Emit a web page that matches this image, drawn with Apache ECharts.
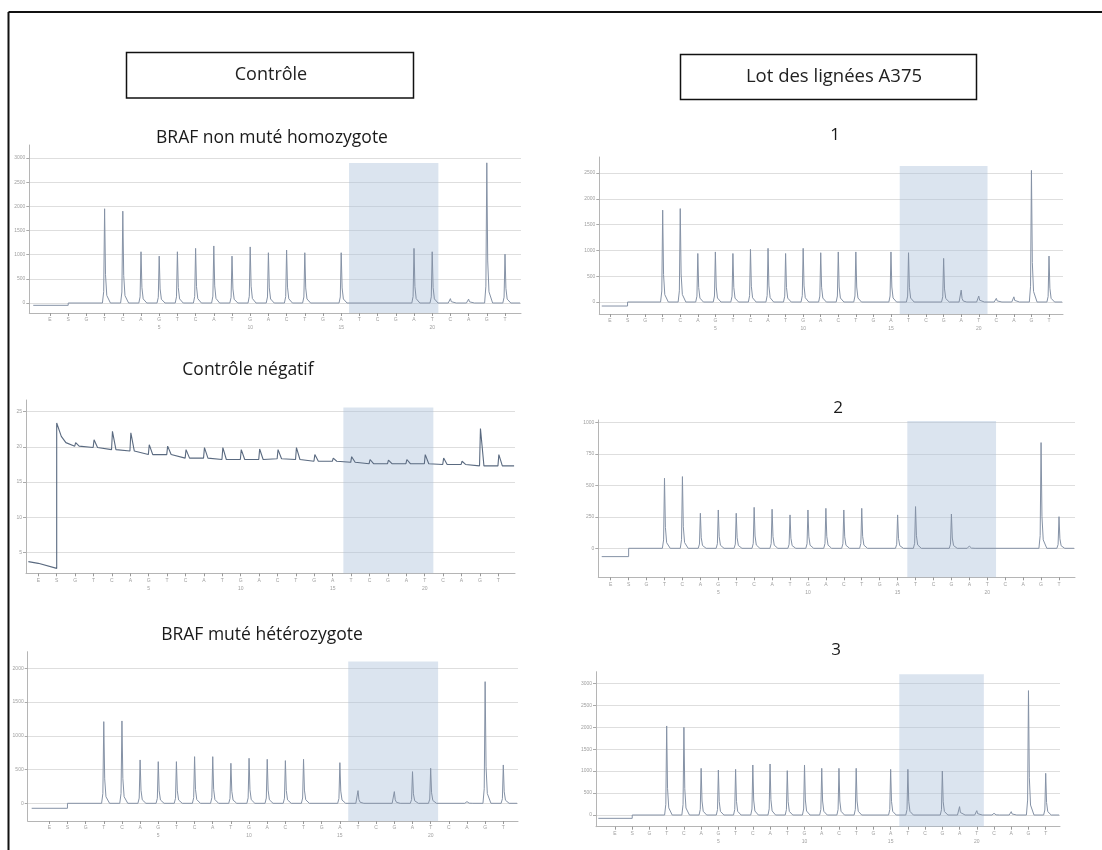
<!DOCTYPE html>
<html>
<head>
<meta charset="utf-8">
<script src="https://cdn.jsdelivr.net/npm/echarts@6.0.0/dist/echarts.min.js"></script>
<style>
html,body{margin:0;padding:0;background:#ffffff;}
#chart{width:1102px;height:850px;}
</style>
</head>
<body>
<div id="chart"></div>
<script>
// ---------------- DATA ----------------
const dispensations = [1,2,3,4,5,6,7,8,9,10,11,12,13,14,15,16,17,18,19,20,21,22,23,24,25,26];
const dispensationLetters = ['E','S','G','T','C','A','G','T','C','A','T','G','A','C','T','G','A','T','C','G','A','T','C','A','G','T'];
const cycleTicks = [7, 12, 17, 22];
const cycleLabels = ['5', '10', '15', '20'];

const headerLeft = 'Contrôle';
const headerRight = 'Lot des lignées A375';
const titleHomozygote = 'BRAF non muté homozygote';
const titleNegative = 'Contrôle négatif';
const titleHeterozygote = 'BRAF muté hétérozygote';
const titleSample1 = '1';
const titleSample2 = '2';
const titleSample3 = '3';

// peak heights per dispensation (1..26)
const peaksHomozygote   = [0,0,0,1950,1900,1060,970,1060,1130,1180,970,1160,1040,1095,1040,0,1040,0,0,0,1130,1060,90,80,2900,1010];
const peaksSample1      = [0,0,0,1780,1810,940,970,940,1020,1040,940,1040,955,970,970,0,970,955,0,845,230,115,70,100,2550,890];
const peaksSample2      = [0,0,0,556,569,278,304,278,325,310,265,304,317,304,317,0,265,331,0,272,18,0,0,0,839,251];
const peaksHeterozygote = [0,0,0,1210,1220,642,617,617,691,691,593,667,652,632,652,0,602,188,0,173,469,519,0,25,1802,568];
const peaksSample3      = [0,0,0,2028,1997,1063,1025,1040,1139,1162,1010,1139,1063,1063,1063,0,1040,1040,0,1002,190,99,38,76,2833,949];

// signal before substrate dispensation: [start dispensation, level]
const preHomozygote   = [0.08, -48];
const preSample1      = [0.53, -78];
const preSample2      = [0.50, -66];
const preHeterozygote = [0.03, -74];
const preSample3      = [0.03, -76];

// y tick labels
const yTicksHomozygote   = [0,500,1000,1500,2000,2500,3000];
const yTicksSample1      = [0,500,1000,1500,2000,2500];
const yTicksNegative     = [5,10,15,20,25];
const yTicksSample2      = [0,250,500,750,1000];
const yTicksHeterozygote = [0,500,1000,1500,2000];
const yTicksSample3      = [0,500,1000,1500,2000,2500,3000];

// analysed region: [from dispensation, to dispensation, top value]
const shadeHomozygote   = [17.43, 22.34, 2896];
const shadeSample1      = [17.50, 22.50, 2635];
const shadeNegative     = [17.58, 22.47, 25.6];
const shadeSample2      = [17.54, 22.49, 1010];
const shadeHeterozygote = [17.46, 22.41, 2099];
const shadeSample3      = [17.50, 22.41, 3205];

// negative control trace
const negativePre   = [[0.46,3.67],[1,3.43],[2,2.71]];
const negativeDecay = [[2,23.4],[2.25,21.5],[2.5,20.6]];
const negativeBase  = [20.1,19.9,19.6,19.4,18.9,18.9,18.4,18.4,18.2,18.2,18.2,18.3,18.2,17.95,17.95,17.8,17.6,17.6,17.6,17.6,17.5,17.5,17.3,17.3]; // dispensations 3..26
const negativeSpike = [20.6,21.0,22.2,22.0,20.3,20.1,19.6,19.9,19.9,19.6,19.7,19.6,19.9,18.9,18.4,18.6,18.2,18.1,18.2,18.9,18.4,17.95,22.6,18.9];

// ---------------- STYLE / LAYOUT ----------------
const PEAK_SHAPE = [[-0.12,0],[-0.05,0.12],[0,1],[0.05,0.3],[0.12,0.08],[0.32,0]];
const LINE_COLOR = '#8592a6';
const GRID_COLOR = '#dedede';
const AXIS_COLOR = '#b5b5b5';
const LABEL_COLOR = '#a0a0a0';
const SHADE_COLOR = 'rgba(170,190,218,0.42)';

const layouts = {
  homo:   {tick1:50,   tick26:505,    left:29.3,  right:521,  v0:0, p0:303,   v1:3000, p1:158,   bottom:313,   top:145},
  s1:     {tick1:610,  tick26:1049,   left:599.3, right:1063, v0:0, p0:302,   v1:2500, p1:173,   bottom:314,   top:157},
  neg:    {tick1:38.3, tick26:498.3,  left:26,    right:515,  v0:5, p0:552.3, v1:25,   p1:411.7, bottom:573.3, top:400},
  s2:     {tick1:610.7,tick26:1059,   left:598.3, right:1075, v0:0, p0:548.3, v1:1000, p1:422.3, bottom:577.3, top:420},
  het:    {tick1:49.3, tick26:503.3,  left:27.7,  right:518,  v0:0, p0:803.3, v1:2000, p1:668.3, bottom:821,   top:651.7},
  s3:     {tick1:615,  tick26:1045.7, left:596,   right:1060, v0:0, p0:815,   v1:3000, p1:683.3, bottom:826.7, top:671.7}
};

function geometry(L) {
  const sp = (L.tick26 - L.tick1) / 25;
  const ppu = (L.p0 - L.p1) / (L.v1 - L.v0);
  return {
    grid: {left: L.left, top: L.top, width: L.right - L.left, height: L.bottom - L.top, outerBoundsMode: 'none', containLabel: false},
    xmin: 1 - (L.tick1 - L.left) / sp,
    xmax: 1 + (L.right - L.tick1) / sp,
    ymin: L.v0 - (L.bottom - L.p0) / ppu,
    ymax: L.v0 + (L.p0 - L.top) / ppu
  };
}

function peakTrace(peaks, pre, xmax) {
  const pts = [[pre[0], pre[1]], [2, pre[1]], [2, 0]];
  for (let i = 3; i <= 26; i++) {
    const h = peaks[i - 1];
    if (h > 0) {
      PEAK_SHAPE.forEach(s => pts.push([i + s[0], s[1] * h]));
    }
  }
  pts.push([xmax - 0.05, 0]);
  return pts;
}

function negativeTrace(xmax) {
  const pts = negativePre.slice().concat(negativeDecay);
  for (let i = 3; i <= 26; i++) {
    const b = negativeBase[i - 3], s = negativeSpike[i - 3];
    pts.push([i - 0.02, b], [i + 0.03, s], [i + 0.22, b]);
  }
  pts.push([xmax - 0.05, negativeBase[negativeBase.length - 1]]);
  return pts;
}

const panelDefs = [
  {key:'homo', yTicks: yTicksHomozygote,   shade: shadeHomozygote,   build: g => peakTrace(peaksHomozygote, preHomozygote, g.xmax)},
  {key:'s1',   yTicks: yTicksSample1,      shade: shadeSample1,      build: g => peakTrace(peaksSample1, preSample1, g.xmax)},
  {key:'neg',  yTicks: yTicksNegative,     shade: shadeNegative,     build: g => negativeTrace(g.xmax), color:'#5a6a80', width:1.1},
  {key:'s2',   yTicks: yTicksSample2,      shade: shadeSample2,      build: g => peakTrace(peaksSample2, preSample2, g.xmax)},
  {key:'het',  yTicks: yTicksHeterozygote, shade: shadeHeterozygote, build: g => peakTrace(peaksHeterozygote, preHeterozygote, g.xmax)},
  {key:'s3',   yTicks: yTicksSample3,      shade: shadeSample3,      build: g => peakTrace(peaksSample3, preSample3, g.xmax)}
];

const grids = [], xAxes = [], yAxes = [], series = [];
panelDefs.forEach((p, idx) => {
  const g = geometry(layouts[p.key]);
  grids.push(g.grid);
  xAxes.push({
    type: 'value', gridIndex: idx, min: g.xmin, max: g.xmax,
    axisLine: {show: true, onZero: false, lineStyle: {color: AXIS_COLOR, width: 1}},
    axisTick: {show: true, customValues: dispensations, length: 3, lineStyle: {color: '#999'}},
    axisLabel: {
      show: true, customValues: dispensations, margin: 3, color: LABEL_COLOR, fontSize: 5, lineHeight: 8,
      formatter: v => {
        const k = cycleTicks.indexOf(v);
        const letter = dispensationLetters[v - 1] || '';
        return k >= 0 ? letter + '\n' + cycleLabels[k] : letter;
      }
    },
    splitLine: {show: false}
  });
  yAxes.push({
    type: 'value', gridIndex: idx, min: g.ymin, max: g.ymax,
    axisLine: {show: true, onZero: false, lineStyle: {color: AXIS_COLOR, width: 1}},
    axisTick: {show: true, customValues: p.yTicks, length: 3, lineStyle: {color: '#aaa'}},
    axisLabel: {show: true, customValues: p.yTicks, margin: 4, color: LABEL_COLOR, fontSize: 5, formatter: v => String(v)},
    splitLine: {show: true, lineStyle: {color: GRID_COLOR, width: 1}}
  });
  series.push({
    type: 'line', xAxisIndex: idx, yAxisIndex: idx,
    data: p.build(g), showSymbol: false, symbol: 'none', smooth: false, animation: false,
    clip: false,
    lineStyle: {color: p.color || LINE_COLOR, width: p.width || 1},
    markArea: {
      silent: true,
      itemStyle: {color: SHADE_COLOR},
      data: [[{xAxis: p.shade[0], yAxis: p.shade[2]}, {xAxis: p.shade[1], yAxis: g.ymin}]]
    }
  });
});

const titleFont = '"Open Sans", "Liberation Sans", sans-serif';
const graphic = [
  {type:'line', shape:{x1:8.5, y1:12, x2:1102, y2:12}, style:{stroke:'#111', lineWidth:2}},
  {type:'line', shape:{x1:8.5, y1:12, x2:8.5, y2:850}, style:{stroke:'#111', lineWidth:2}},
  {type:'rect', shape:{x:126.5, y:52.5, width:287, height:45.5}, style:{fill:'#fff', stroke:'#111', lineWidth:1.5}},
  {type:'rect', shape:{x:680.5, y:54.5, width:296, height:45}, style:{fill:'#fff', stroke:'#111', lineWidth:1.5}},
  {type:'text', x:271, y:75, style:{text: headerLeft, font:'18px ' + titleFont, fill:'#222', align:'center', verticalAlign:'middle'}},
  {type:'text', x:834, y:77, style:{text: headerRight, font:'18.5px ' + titleFont, fill:'#222', align:'center', verticalAlign:'middle'}},
  {type:'text', x:272, y:138, style:{text: titleHomozygote, font:'17.5px ' + titleFont, fill:'#1a1a1a', align:'center', verticalAlign:'middle'}},
  {type:'text', x:835, y:135, style:{text: titleSample1, font:'17px ' + titleFont, fill:'#1a1a1a', align:'center', verticalAlign:'middle'}},
  {type:'text', x:248, y:370, style:{text: titleNegative, font:'17.5px ' + titleFont, fill:'#1a1a1a', align:'center', verticalAlign:'middle'}},
  {type:'text', x:838, y:408, style:{text: titleSample2, font:'17px ' + titleFont, fill:'#1a1a1a', align:'center', verticalAlign:'middle'}},
  {type:'text', x:262, y:635, style:{text: titleHeterozygote, font:'17.5px ' + titleFont, fill:'#1a1a1a', align:'center', verticalAlign:'middle'}},
  {type:'text', x:836, y:650, style:{text: titleSample3, font:'17px ' + titleFont, fill:'#1a1a1a', align:'center', verticalAlign:'middle'}}
];

const chart = echarts.init(document.getElementById('chart'), null, {renderer: 'canvas'});
chart.setOption({
  backgroundColor: '#ffffff',
  animation: false,
  grid: grids,
  xAxis: xAxes,
  yAxis: yAxes,
  series: series,
  graphic: graphic
});
</script>
</body>
</html>
